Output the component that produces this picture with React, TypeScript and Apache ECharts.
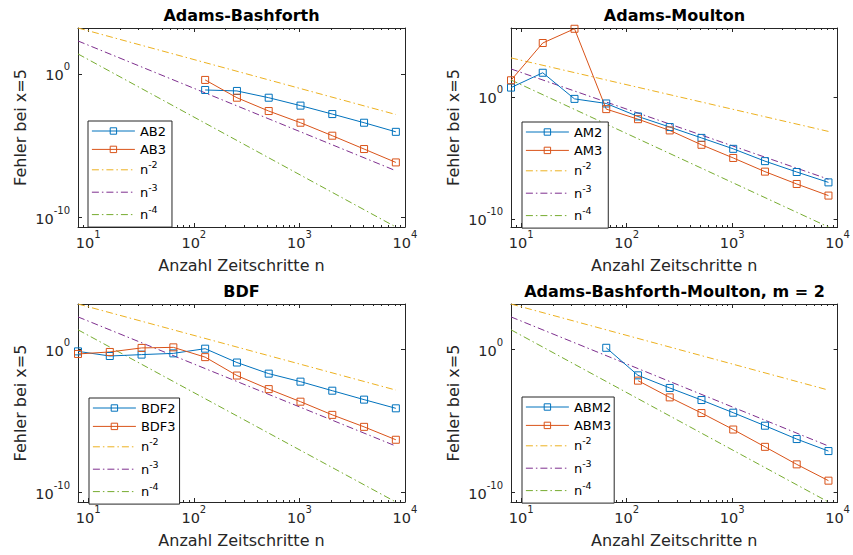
import React, { useEffect, useRef } from 'react';
import * as echarts from 'echarts';

// ---------- data ----------
const nAll = [8, 16, 32, 64, 128, 256, 512, 1024, 2048, 4096, 8192];
const nFrom64 = [64, 128, 256, 512, 1024, 2048, 4096, 8192];
const nFrom128 = [128, 256, 512, 1024, 2048, 4096, 8192];

const ab2 = [7.6e-2, 6.5e-2, 2.2e-2, 6.2e-3, 1.6e-3, 4.0e-4, 9.3e-5];
const ab3 = [3.8e-1, 2.2e-2, 2.6e-3, 4.0e-4, 5.0e-5, 5.9e-6, 6.9e-7];

const am2 = [5.8, 95, 0.69, 0.29, 2.5e-2, 3.4e-3, 4.4e-4, 5.6e-5, 5.5e-6, 7.1e-7, 1.0e-7];
const am3 = [23, 2.6e4, 3.8e5, 0.1, 1.5e-2, 1.8e-3, 1.2e-4, 1.0e-5, 7.6e-7, 7.4e-8, 8.3e-9];

const bdf2 = [0.76, 0.36, 0.45, 0.55, 1.17, 0.126, 2.1e-2, 5.8e-3, 1.35e-3, 3.2e-4, 7.9e-5];
const bdf3 = [0.5, 0.69, 1.32, 1.45, 0.3, 1.55e-2, 1.74e-3, 2.3e-4, 2.75e-5, 4.0e-6, 5.0e-7];

const abm2 = [1.35, 1.6e-2, 2.1e-3, 3.0e-4, 3.9e-5, 4.8e-6, 5.6e-7, 8.1e-8];
const abm3 = [6.8e-3, 4.6e-4, 3.7e-5, 2.6e-6, 1.6e-7, 9.5e-9, 6.9e-10];

// reference slopes n^-2, n^-3, n^-4 (end points)
const refN = [8, 8192];
const refP2 = [1.56e3, 1.49e-3];
const refP3 = [1.95e2, 1.82e-7];
const refP4 = [24.4, 2.22e-11];

const xMin = 8;
const xMax = 1e4;
const yMaxAM = 4.4e5;

const titles = ['Adams-Bashforth', 'Adams-Moulton', 'BDF', 'Adams-Bashforth-Moulton, m = 2'];
const xName = 'Anzahl Zeitschritte n';
const yName = 'Fehler bei x=5';

// ---------- style ----------
const FONT = 'DejaVu Sans';
const AX = '#262626';
const COL = { blue: '#0072BD', orange: '#D95319', yellow: '#EDB120', purple: '#7E2F8E', green: '#77AC30' };
const DASHDOT = [7, 3, 1.5, 3];

const grids = [
  { left: 78, top: 28, width: 327, height: 199 },
  { left: 511, top: 28, width: 327, height: 199 },
  { left: 78, top: 304, width: 327, height: 198 },
  { left: 511, top: 304, width: 327, height: 198 },
];
const legendPos = [
  { left: 88, top: 121, padR: 6 },
  { left: 522, top: 122, padR: 6 },
  { left: 89, top: 398, padR: 4 },
  { left: 522, top: 397, padR: 3 },
];

const expLabel = (v: number) => {
  const e = Math.round(Math.log10(v));
  return '{b|10}{s|' + e + '}';
};
const labelRich = {
  b: { fontFamily: FONT, fontSize: 14.5, lineHeight: 17, verticalAlign: 'bottom', color: AX },
  s: { fontFamily: FONT, fontSize: 10, lineHeight: 8, padding: [0, 0, 11, 0], verticalAlign: 'bottom', color: AX },
};
const legendRich = {
  b: { fontFamily: FONT, fontSize: 13, lineHeight: 16, color: '#000' },
  s: { fontFamily: FONT, fontSize: 9.5, lineHeight: 6, padding: [0, 0, 10, 0], color: '#000' },
};

function buildOption() {
  const panels = [
    { a: { name: 'AB2', n: nFrom128, v: ab2 }, b: { name: 'AB3', n: nFrom128, v: ab3 }, yMax: refP2[0] },
    { a: { name: 'AM2', n: nAll, v: am2 }, b: { name: 'AM3', n: nAll, v: am3 }, yMax: yMaxAM },
    { a: { name: 'BDF2', n: nAll, v: bdf2 }, b: { name: 'BDF3', n: nAll, v: bdf3 }, yMax: refP2[0] },
    { a: { name: 'ABM2', n: nFrom64, v: abm2 }, b: { name: 'ABM3', n: nFrom128, v: abm3 }, yMax: refP2[0] },
  ];
  const yMin = refP4[1];
  const refs = [
    { name: 'n-2', v: refP2, color: COL.yellow },
    { name: 'n-3', v: refP3, color: COL.purple },
    { name: 'n-4', v: refP4, color: COL.green },
  ];

  const axisLine = { show: true, onZero: false, lineStyle: { color: AX, width: 1 } };
  const axisTick = { show: true, inside: true, length: 4, lineStyle: { color: AX, width: 1 } };
  const minorTick = { show: true, splitNumber: 9, length: 2, lineStyle: { color: AX, width: 1 } };

  const xAxis: any[] = [];
  const yAxis: any[] = [];
  const series: any[] = [];
  const legend: any[] = [];
  const title: any[] = [];

  panels.forEach((p, i) => {
    const g = grids[i];
    xAxis.push({
      type: 'log', logBase: 10, gridIndex: i, position: 'bottom', min: xMin, max: xMax,
      name: xName, nameLocation: 'middle', nameGap: 30,
      nameTextStyle: { fontFamily: FONT, fontSize: 16, color: AX },
      axisLine, axisTick, minorTick, splitLine: { show: false },
      axisLabel: { formatter: expLabel, rich: labelRich, margin: 6, showMinLabel: false, showMaxLabel: true, fontFamily: FONT, color: AX },
    });
    yAxis.push({
      type: 'log', logBase: 10, gridIndex: i, position: 'left', min: yMin, max: p.yMax,
      name: yName, nameLocation: 'middle', nameGap: 50,
      nameTextStyle: { fontFamily: FONT, fontSize: 16, color: AX },
      axisLine, axisTick, splitLine: { show: false },
      axisLabel: { formatter: expLabel, rich: labelRich, margin: 8, showMinLabel: false, showMaxLabel: false, fontFamily: FONT, color: AX },
    });
    title.push({
      text: titles[i], left: g.left + g.width / 2, top: g.top - 22, textAlign: 'center', padding: 0,
      textStyle: { fontFamily: FONT, fontSize: 16, fontWeight: 'bold', color: '#000', lineHeight: 18 },
    });

    [{ s: p.a, c: COL.blue }, { s: p.b, c: COL.orange }].forEach(({ s, c }) => {
      series.push({
        type: 'line', name: s.name, xAxisIndex: i, yAxisIndex: i,
        data: s.n.map((x, k) => [x, s.v[k]]),
        symbol: 'rect', symbolSize: 7, showSymbol: true, z: 4, silent: true,
        lineStyle: { color: c, width: 1 },
        itemStyle: { color: 'rgba(255,255,255,0)', borderColor: c, borderWidth: 1 },
      });
    });
    refs.forEach((r) => {
      series.push({
        type: 'line', name: r.name, xAxisIndex: i, yAxisIndex: i,
        data: refN.map((x, k) => [x, r.v[k]]),
        symbol: 'none', z: 3, silent: true,
        lineStyle: { color: r.color, width: 1, type: DASHDOT },
        itemStyle: { color: r.color, opacity: 0 },
      });
    });

    const lp = legendPos[i];
    legend.push({
      show: true, orient: 'vertical', left: lp.left, top: lp.top,
      itemWidth: 43, itemHeight: 8, itemGap: 2.4,
      padding: [2, lp.padR, 2.5, 3.4],
      borderColor: AX, borderWidth: 1, backgroundColor: '#fff',
      selectedMode: false,
      formatter: (name: string) => (name.startsWith('n-') ? '{b|n}{s|' + name.slice(1) + '}' : '{b|' + name + '}'),
      textStyle: { fontFamily: FONT, fontSize: 13, lineHeight: 16, color: '#000', rich: legendRich },
      data: [
        { name: p.a.name, itemStyle: { color: 'rgba(255,255,255,0)', borderColor: COL.blue, borderWidth: 1 }, lineStyle: { color: COL.blue, width: 1, type: 'solid' } },
        { name: p.b.name, itemStyle: { color: 'rgba(255,255,255,0)', borderColor: COL.orange, borderWidth: 1 }, lineStyle: { color: COL.orange, width: 1, type: 'solid' } },
        ...refs.map((r) => ({ name: r.name, itemStyle: { color: r.color, opacity: 0 }, lineStyle: { color: r.color, width: 1, type: DASHDOT } })),
      ],
    });
  });

  // box: top and right axes
  panels.forEach((p, i) => {
    xAxis.push({
      type: 'log', logBase: 10, gridIndex: i, position: 'top', min: xMin, max: xMax,
      axisLine, axisTick, minorTick, splitLine: { show: false }, axisLabel: { show: false },
    });
    yAxis.push({
      type: 'log', logBase: 10, gridIndex: i, position: 'right', min: yMin, max: p.yMax,
      axisLine, axisTick, splitLine: { show: false }, axisLabel: { show: false },
    });
  });

  return {
    animation: false,
    backgroundColor: '#fff',
    title,
    grid: grids.map((g) => ({ ...g, containLabel: false })),
    xAxis,
    yAxis,
    legend,
    series,
  };
}

export default function App() {
  const ref = useRef<HTMLDivElement>(null);
  useEffect(() => {
    const chart = echarts.init(ref.current!, undefined, { renderer: 'svg' });
    chart.setOption(buildOption() as any);
    return () => chart.dispose();
  }, []);
  return <div ref={ref} style={{ position: 'fixed', left: 0, top: 0, width: 853, height: 555 }} />;
}
